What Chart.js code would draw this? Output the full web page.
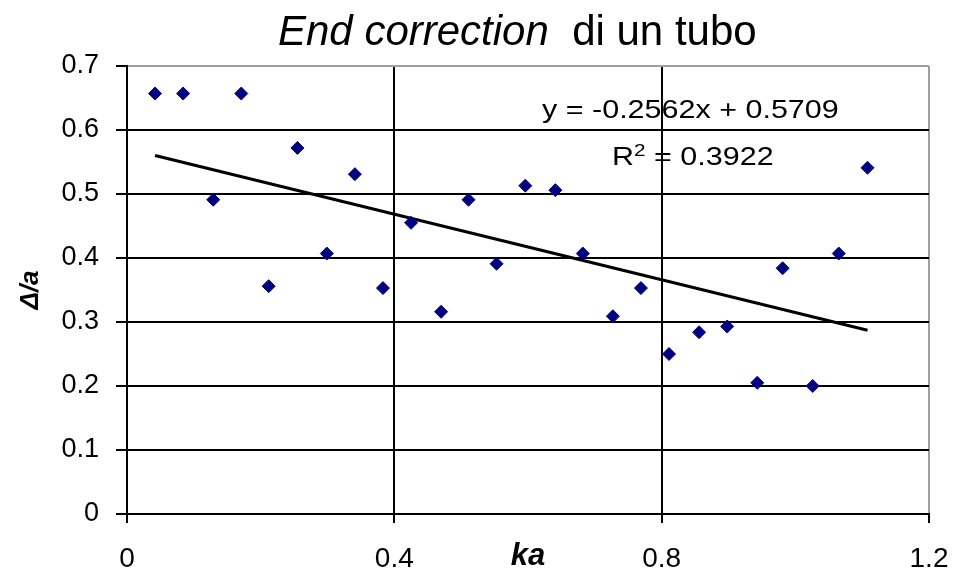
<!DOCTYPE html>
<html>
<head>
<meta charset="utf-8">
<script src="https://cdn.jsdelivr.net/npm/chart.js@4/dist/chart.umd.min.js"></script>
<style>
  html, body { margin: 0; padding: 0; background: #fff; }
  #wrap { position: relative; width: 953px; height: 572px; overflow: hidden; }
  canvas { position: absolute; left: 0; top: 0; }
  .txt { position: absolute; font-family: "Liberation Sans", Arial, sans-serif; color: #000; white-space: pre; }
  #title { left: 278px; top: 10px; font-size: 42px; line-height: 42px; }
  .eq { font-size: 25px; line-height: 25px; transform: scaleX(1.22); transform-origin: 0 0; }
  #eq1 { left: 542px; top: 97px; }
  #eq2 { left: 612px; top: 144px; }
  #eq2 sup { font-size: 17px; vertical-align: 0; position: relative; top: -9px; }
</style>
</head>
<body>
<div id="wrap">
  <canvas id="c" width="953" height="572"></canvas>
  <div id="title" class="txt"><i>End correction</i>  di un tubo</div>
  <div id="eq1" class="txt eq">y = -0.2562x + 0.5709</div>
  <div id="eq2" class="txt eq">R<sup>2</sup> = 0.3922</div>
</div>
<script>
// ---- data ----
const kaValues = [0.042, 0.084, 0.129, 0.171, 0.212, 0.255, 0.299, 0.341, 0.383, 0.425, 0.470, 0.511, 0.553,
                  0.596, 0.641, 0.682, 0.727, 0.769, 0.811, 0.856, 0.898, 0.943, 0.981, 1.026, 1.065, 1.108];
const deltaValues = [0.657, 0.657, 0.491, 0.657, 0.356, 0.572, 0.407, 0.531, 0.353, 0.455, 0.316, 0.491, 0.391,
                     0.513, 0.506, 0.407, 0.309, 0.353, 0.250, 0.284, 0.293, 0.205, 0.384, 0.200, 0.407, 0.541];
const trendSlope = -0.2562;
const trendIntercept = 0.5709;
const xTicks = [0, 0.4, 0.8, 1.2];
const yTicks = [0, 0.1, 0.2, 0.3, 0.4, 0.5, 0.6, 0.7];

const points = kaValues.map((x, i) => ({ x: x, y: deltaValues[i] }));
const xMin = Math.min(...kaValues), xMax = Math.max(...kaValues);
const trend = [xMin, xMax].map(x => ({ x: x, y: trendSlope * x + trendIntercept }));

const FONT = '"Liberation Sans", Arial, sans-serif';

new Chart(document.getElementById('c'), {
  type: 'scatter',
  data: {
    datasets: [
      {
        label: 'trend',
        type: 'line',
        data: trend,
        borderColor: '#000',
        borderWidth: 3,
        pointRadius: 0,
        fill: false,
        order: 2
      },
      {
        label: 'data',
        data: points,
        pointStyle: 'rectRot',
        pointRadius: 6.5,
        backgroundColor: '#000080',
        borderColor: '#000080',
        borderWidth: 1,
        order: 1
      }
    ]
  },
  options: {
    responsive: false,
    animation: false,
    layout: { padding: { left: 0, right: 24, top: 66, bottom: 0 } },
    plugins: { legend: { display: false }, tooltip: { enabled: false }, title: { display: false } },
    scales: {
      x: {
        type: 'linear',
        min: 0, max: 1.2,
        afterBuildTicks: s => { s.ticks = xTicks.map(v => ({ value: v })); },
        afterFit: s => { s.height = 58; s.paddingLeft = 0; s.paddingRight = 0; },
        ticks: {
          color: '#000',
          font: { family: FONT, size: 28 },
          padding: 19,
          maxRotation: 0,
          callback: v => String(+v.toFixed(1))
        },
        grid: {
          color: ctx => (ctx.tick && ctx.tick.value === 1.2) ? '#a0a0a0' : '#000',
          lineWidth: 2,
          tickLength: 9,
          tickColor: '#000'
        },
        border: { color: '#000', width: 2 },
        title: {
          display: true,
          text: 'ka',
          color: '#000',
          font: { family: FONT, size: 31, style: 'italic', weight: 'bold', lineHeight: 1 },
          padding: 0
        }
      },
      y: {
        type: 'linear',
        min: 0, max: 0.7,
        afterBuildTicks: s => { s.ticks = yTicks.map(v => ({ value: v })); },
        afterFit: s => { s.width = 127; s.paddingTop = 0; s.paddingBottom = 0; },
        ticks: {
          color: '#000',
          font: { family: FONT, size: 27 },
          padding: 17,
          callback: v => String(+v.toFixed(1))
        },
        grid: {
          color: ctx => (ctx.tick && Math.abs(ctx.tick.value - 0.7) < 1e-9) ? '#a0a0a0' : '#000',
          lineWidth: 2,
          tickLength: 11,
          tickColor: '#000'
        },
        border: { color: '#000', width: 2 },
        title: {
          display: true,
          text: 'Δ/a',
          color: '#000',
          font: { family: FONT, size: 26, style: 'italic', weight: 'bold' },
          padding: { top: 15, bottom: 0 }
        }
      }
    }
  }
});
</script>
</body>
</html>
